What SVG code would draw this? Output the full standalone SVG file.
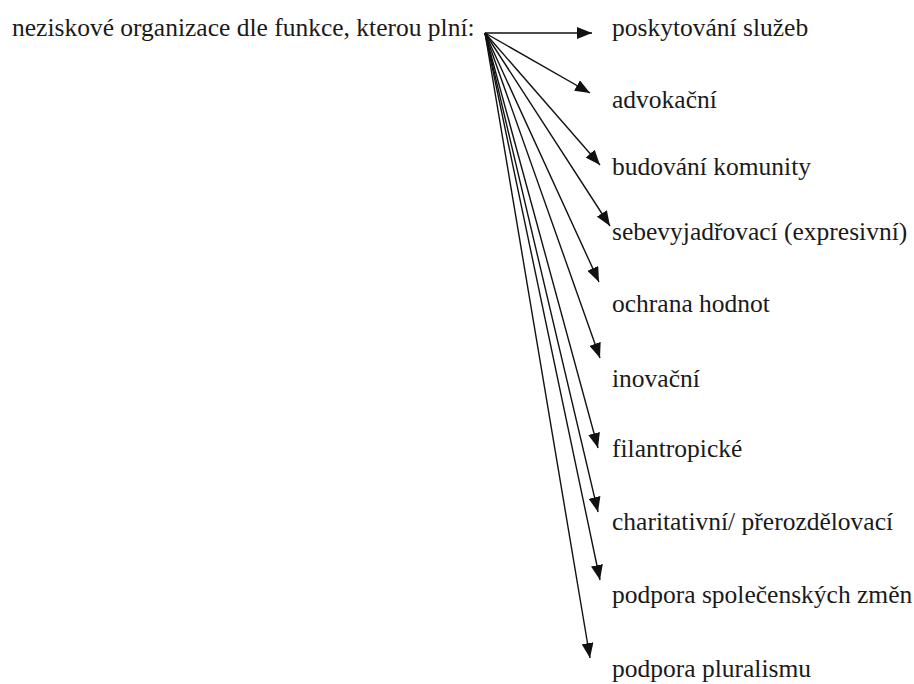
<svg xmlns="http://www.w3.org/2000/svg" width="914" height="684" viewBox="0 0 914 684">
<style>
text{font-family:"Liberation Serif","Times New Roman",serif;font-size:25.5px;fill:#1a1a1a}
.c{stroke:#111;stroke-width:1.4;fill:none;marker-end:url(#ah)}
</style>
<defs>
<marker id="ah" markerUnits="userSpaceOnUse" markerWidth="16" markerHeight="12" refX="15" refY="6" orient="auto">
<path d="M0,0 L15,6 L0,12 Z" fill="#111"/>
</marker>
</defs>
<rect width="914" height="684" fill="#fff"/>
<g id="source"><text x="12" y="36">neziskové organizace dle funkce, kterou plní:</text></g>
<g id="connectors">
<line class="c" x1="485" y1="33" x2="592" y2="33"/>
<line class="c" x1="485" y1="33" x2="590" y2="93"/>
<line class="c" x1="485" y1="33" x2="600" y2="165"/>
<line class="c" x1="485" y1="33" x2="610" y2="226"/>
<line class="c" x1="485" y1="33" x2="599" y2="282"/>
<line class="c" x1="485" y1="33" x2="600" y2="358"/>
<line class="c" x1="485" y1="33" x2="598" y2="448"/>
<line class="c" x1="485" y1="33" x2="598" y2="512"/>
<line class="c" x1="485" y1="33" x2="600" y2="580"/>
<line class="c" x1="485" y1="33" x2="590" y2="658"/>
</g>
<g id="n1"><text x="612" y="36">poskytování služeb</text></g>
<g id="n2"><text x="612" y="108">advokační</text></g>
<g id="n3"><text x="612" y="175">budování komunity</text></g>
<g id="n4"><text x="612" y="240">sebevyjadřovací (expresivní)</text></g>
<g id="n5"><text x="612" y="312">ochrana hodnot</text></g>
<g id="n6"><text x="612" y="387">inovační</text></g>
<g id="n7"><text x="612" y="457">filantropické</text></g>
<g id="n8"><text x="612" y="530">charitativní/ přerozdělovací</text></g>
<g id="n9"><text x="612" y="603">podpora společenských změn</text></g>
<g id="n10"><text x="612" y="677">podpora pluralismu</text></g>
</svg>
